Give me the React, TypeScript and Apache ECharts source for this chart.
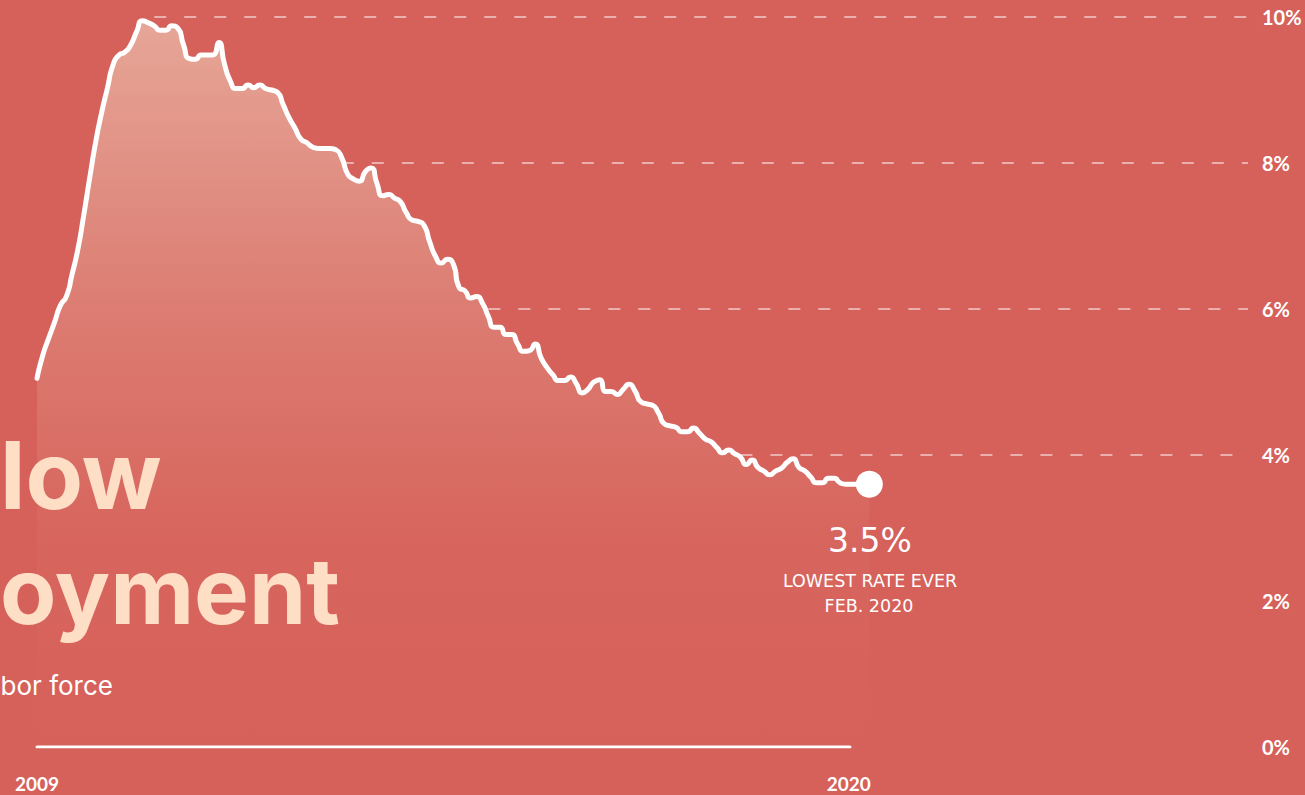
import React, { useEffect, useRef } from "react";
import * as echarts from "echarts";

// Monthly unemployment rate (%) as drawn in the chart, Apr 2008 -> Feb 2020
const unemploymentRate: number[] = [
  5.05, 5.37, 5.6, 5.82, 6.05, 6.17, 6.48, 6.83, 7.3,
  7.8, 8.28, 8.68, 9.02, 9.35, 9.48, 9.52, 9.62, 9.8, 9.95, 9.92, 9.88,
  9.82, 9.82, 9.88, 9.85, 9.62, 9.43, 9.42, 9.48, 9.48, 9.48, 9.65, 9.35,
  9.12, 9.02, 9.02, 9.07, 9.03, 9.07, 9.02, 9.0, 8.97, 8.8, 8.62, 8.48,
  8.33, 8.28, 8.22, 8.2, 8.2, 8.2, 8.18, 8.07, 7.85, 7.78, 7.75, 7.88,
  7.93, 7.72, 7.55, 7.57, 7.52, 7.47, 7.32, 7.22, 7.2, 7.15, 6.92, 6.72,
  6.63, 6.68, 6.62, 6.3, 6.25, 6.15, 6.17, 6.08, 5.9, 5.75, 5.75, 5.65,
  5.65, 5.52, 5.42, 5.43, 5.52, 5.33, 5.2, 5.1, 5.02, 5.02, 5.07, 4.98,
  4.85, 4.9, 5.0, 5.03, 4.87, 4.87, 4.83, 4.9, 4.97, 4.88, 4.73, 4.7,
  4.68, 4.58, 4.43, 4.4, 4.38, 4.32, 4.32, 4.37, 4.3, 4.22, 4.18, 4.1,
  4.03, 4.07, 4.02, 3.97, 3.87, 3.93, 3.83, 3.78, 3.73, 3.78, 3.82, 3.9,
  3.95, 3.83, 3.78, 3.7, 3.62, 3.62, 3.68, 3.68, 3.62, 3.6, 3.6, 3.6,
  3.6, 3.6,
];

const yTickValues: number[] = [0, 2, 4, 6, 8, 10];
const gridLevels: number[] = [4, 6, 8, 10];
const xTickPositions: number[] = [0, 138.5];
const xTickLabels: string[] = ["2009", "2020"];
const baselineEnd = 138.7;
const xMax = 206.6;

const titleLines: string[] = ["low", "oyment"];
const subtitle = "bor force";
const calloutValue = "3.5%";
const calloutLines: string[] = ["LOWEST RATE EVER", "FEB. 2020"];

const BG = "#d6605a";
const PEACH = "#ffdec6";

// index just before the series first falls below a level after its peak
function dropIndex(level: number): number {
  let peak = 0;
  unemploymentRate.forEach((v, i) => {
    if (v > unemploymentRate[peak]) peak = i;
  });
  for (let i = peak; i < unemploymentRate.length; i++) {
    if (unemploymentRate[i] < level - 0.12) return Math.max(i - 1, 0);
  }
  return 0;
}

export default function App() {
  const ref = useRef<HTMLDivElement>(null);

  useEffect(() => {
    if (!ref.current) return;
    const chart = echarts.init(ref.current, undefined, { renderer: "svg" });
    const lastIdx = unemploymentRate.length - 1;
    const lastVal = unemploymentRate[lastIdx];

    const option: any = {
      animation: false,
      backgroundColor: BG,
      grid: { left: 37, right: 57, top: 17, bottom: 48 },
      xAxis: {
        type: "value",
        min: 0,
        max: xMax,
        interval: 138.5,
        axisLine: { show: false },
        axisTick: { show: false },
        splitLine: { show: false },
        axisLabel: {
          customValues: xTickPositions,
          formatter: (v: number) => {
            const i = xTickPositions.indexOf(v);
            return i >= 0 ? xTickLabels[i] : "";
          },
          color: "#ffffff",
          fontFamily: "Lato",
          fontWeight: "bold",
          fontSize: 19,
          lineHeight: 16,
          margin: 28,
        },
      },
      yAxis: {
        type: "value",
        position: "right",
        min: 0,
        max: 10,
        interval: 2,
        axisLine: { show: false },
        axisTick: { show: false },
        splitLine: { show: false },
        axisLabel: {
          formatter: (v: number) => (yTickValues.includes(v) ? v + "%" : ""),
          color: "#ffffff",
          fontFamily: "Lato",
          fontWeight: "bold",
          fontSize: 20,
          margin: 14,
          align: "left",
        },
      },
      series: [
        {
          type: "line",
          data: [],
          z: 1,
          silent: true,
          markLine: {
            silent: true,
            z: 1,
            symbol: ["none", "none"],
            label: { show: false },
            lineStyle: {
              type: [12, 18],
              color: "rgba(255,255,255,0.5)",
              width: 2,
            },
            data: gridLevels.map((v) => [
              { coord: [dropIndex(v), v] },
              { coord: [xMax, v] },
            ]),
          },
        },
        {
          type: "line",
          z: 5,
          smooth: 0.65,
          symbol: "none",
          data: unemploymentRate.map((v, i) => [i, v]),
          lineStyle: { color: "#ffffff", width: 5, cap: "round", join: "round" },
          areaStyle: {
            opacity: 1,
            color: new echarts.graphic.LinearGradient(0, 0, 0, 1, [
              { offset: 0, color: "#e6a697" },
              { offset: 0.4, color: "#dc7c72" },
              { offset: 0.7, color: "#d7665e" },
              { offset: 1, color: BG },
            ]),
          },
        },
        {
          type: "line",
          z: 6,
          symbol: "none",
          silent: true,
          data: [
            [0, 0],
            [baselineEnd, 0],
          ],
          lineStyle: { color: "#ffffff", width: 3, cap: "round" },
        },
        {
          type: "scatter",
          z: 10,
          silent: true,
          symbol: "circle",
          symbolSize: 27,
          itemStyle: { color: "#ffffff", opacity: 1 },
          data: [[lastIdx, lastVal]],
        },
      ],
      graphic: [
        {
          type: "text",
          z: 100,
          x: 0,
          y: 475,
          style: {
            text: titleLines[0],
            fill: PEACH,
            font: "bold 94px Inter",
            align: "left",
            verticalAlign: "middle",
          },
        },
        {
          type: "text",
          z: 100,
          x: 0,
          y: 590,
          style: {
            text: titleLines[1],
            fill: PEACH,
            font: "bold 92px Inter",
            align: "left",
            verticalAlign: "middle",
          },
        },
        {
          type: "text",
          z: 100,
          x: 113,
          y: 685,
          style: {
            text: subtitle,
            fill: "#ffffff",
            font: "26px Inter",
            align: "right",
            verticalAlign: "middle",
          },
        },
        {
          type: "text",
          z: 100,
          x: 870,
          y: 540,
          style: {
            text: calloutValue,
            fill: "#ffffff",
            font: "33px 'DejaVu Sans'",
            align: "center",
            verticalAlign: "middle",
          },
        },
        {
          type: "text",
          z: 100,
          x: 870,
          y: 581,
          style: {
            text: calloutLines[0],
            fill: "#ffffff",
            font: "17.5px 'DejaVu Sans'",
            align: "center",
            verticalAlign: "middle",
          },
        },
        {
          type: "text",
          z: 100,
          x: 869,
          y: 606,
          style: {
            text: calloutLines[1],
            fill: "#ffffff",
            font: "17.5px 'DejaVu Sans'",
            align: "center",
            verticalAlign: "middle",
          },
        },
      ],
    };

    chart.setOption(option);
    return () => chart.dispose();
  }, []);

  return (
    <div
      ref={ref}
      style={{ position: "absolute", left: 0, top: 0, width: 1305, height: 795 }}
    />
  );
}
